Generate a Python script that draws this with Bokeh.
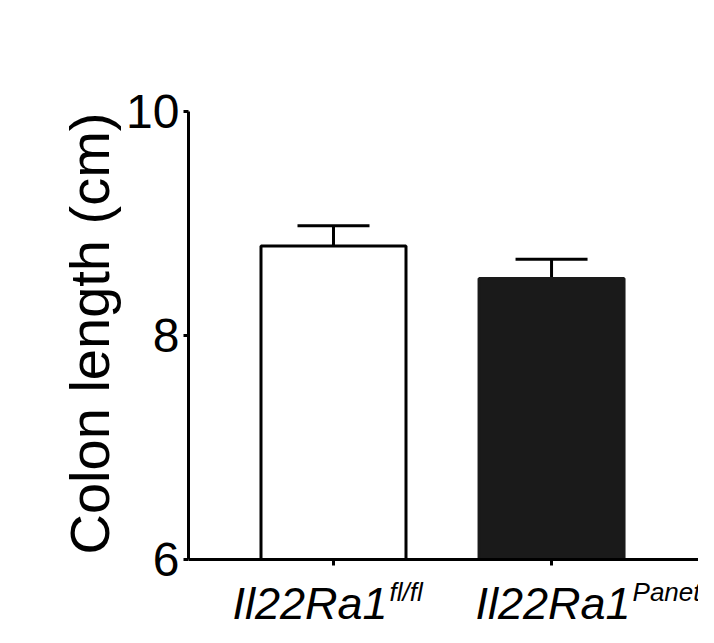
from bokeh.plotting import figure
from bokeh.models import Range1d, FixedTicker, Whisker, TeeHead, ColumnDataSource
from bokeh.core.properties import value
from bokeh.embed import file_html
from bokeh.resources import INLINE

# ---- data ----
groups = ["Il22Ra1", "Il22Ra1"]
superscripts = ["fl/fl", "Paneth"]
colon_length = [8.80, 8.51]
sem = [0.18, 0.17]
y_ticks = [6, 8, 10]

# ---- styles / layout ----
fill_colors = ["white", "#1a1a1a"]
line_colors = ["black", "#1a1a1a"]
label_anchor_px = [54, 79]   # where the superscript starts, relative to the tick (px)
FONT = "Liberation Sans"
W, H = 698, 627
LEFT = 188
AXIS_TOP = 111               # pixel row of the y = 10 tick
FRAME_TOP = 39               # frame is made symmetric about the axis title
PX_PER_UNIT = 112            # vertical pixels per cm
AXIS_TO_BOTTOM = 68          # pixels from the x axis to the bottom of the picture
MAIN_BASE_PX, SUP_BASE_PX = 44, 32

y_min, y_max = y_ticks[0], y_ticks[-1]
y_start = y_min - AXIS_TO_BOTTOM / PX_PER_UNIT
y_end = y_max + (AXIS_TOP - FRAME_TOP) / PX_PER_UNIT
xpos = list(range(len(groups)))

p = figure(width=W, height=H, output_backend="svg", toolbar_location=None,
           x_range=Range1d(-0.665, 1.674), y_range=Range1d(y_start, y_end),
           min_border_left=LEFT, min_border_right=0, min_border_top=FRAME_TOP,
           min_border_bottom=0)
p.background_fill_color = "white"
p.border_fill_color = "white"
p.outline_line_color = None
p.xgrid.visible = False
p.ygrid.visible = False

src = ColumnDataSource(dict(x=xpos, top=colon_length,
                            upper=[v + e for v, e in zip(colon_length, sem)],
                            fill=fill_colors, line=line_colors))
p.vbar(x="x", bottom=y_min, top="top", width=0.665, source=src,
       fill_color="fill", line_color="line", line_width=3)

wh = Whisker(source=src, base="x", lower="top", upper="upper", dimension="height",
             line_color="black", line_width=3, lower_head=None,
             upper_head=TeeHead(size=72, line_color="black", line_width=3))
p.add_layout(wh)

# y axis
ya = p.yaxis[0]
ya.ticker = FixedTicker(ticks=y_ticks)
ya.bounds = (y_min, y_max)
ya.minor_tick_line_color = None
ya.axis_line_width = 3
ya.axis_line_color = "black"
ya.major_tick_line_width = 3
ya.major_tick_line_color = "black"
ya.major_tick_out = 5
ya.major_tick_in = 0
ya.major_label_text_font = FONT
ya.major_label_text_font_size = "48px"
ya.major_label_text_color = "black"
ya.major_label_standoff = 4
ya.axis_label = "Colon length (cm)"
ya.axis_label_text_font = FONT
ya.axis_label_text_font_size = "56px"
ya.axis_label_text_font_style = "normal"
ya.axis_label_text_color = "black"
ya.axis_label_standoff = 2

# x axis, placed at y = 6
xa = p.xaxis[0]
xa.fixed_location = y_min
xa.ticker = FixedTicker(ticks=xpos)
xa.minor_tick_line_color = None
xa.axis_line_width = 3
xa.axis_line_color = "black"
xa.major_tick_line_width = 3
xa.major_tick_line_color = "black"
xa.major_tick_out = 6
xa.major_tick_in = 0
xa.major_label_standoff = 0
xa.major_label_text_font_size = "0px"
xa.major_label_text_color = None

# category labels: italic gene name with a superscript
lsrc = ColumnDataSource(dict(x=xpos, main=groups, sup=superscripts,
                             off_main=label_anchor_px,
                             off_sup=[a + 2 for a in label_anchor_px]))
p.text(x="x", y=y_min - MAIN_BASE_PX / PX_PER_UNIT, text="main", x_offset="off_main",
       source=lsrc, text_font=value(FONT), text_font_size="45px",
       text_font_style="italic", text_color="black", text_align="right",
       text_baseline="alphabetic")
p.text(x="x", y=y_min - SUP_BASE_PX / PX_PER_UNIT, text="sup", x_offset="off_sup",
       source=lsrc, text_font=value(FONT), text_font_size="26px",
       text_font_style="italic", text_color="black", text_align="left",
       text_baseline="alphabetic")

open("out.html", "w").write(file_html(p, INLINE))
